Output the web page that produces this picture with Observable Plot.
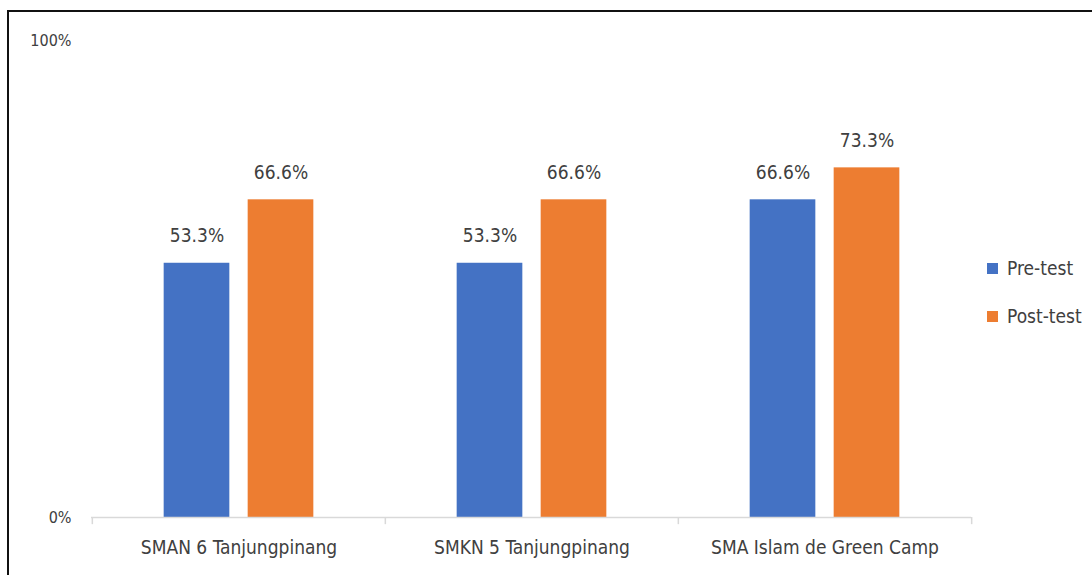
<!DOCTYPE html>
<html>
<head>
<meta charset="utf-8">
<script src="https://cdn.jsdelivr.net/npm/d3@7"></script>
<script src="https://cdn.jsdelivr.net/npm/@observablehq/plot@0.6"></script>
<style>
  html, body { margin: 0; padding: 0; background: #fff; }
  #wrap { position: relative; width: 1092px; height: 575px; overflow: hidden; font-family: "Liberation Sans Narrow", "DejaVu Sans Condensed", sans-serif; }
  #frame { position: absolute; left: 7px; top: 10px; width: 1200px; height: 700px; border-top: 2px solid #111; border-left: 2px solid #111; pointer-events: none; }
  #chart { position: absolute; left: 0; top: 0; }
  #legend { position: absolute; left: 987px; top: 256px; font-size: 19px; color: #404040; }
  .item { display: flex; align-items: center; height: 24px; margin-bottom: 24px; }
  .sw { width: 11px; height: 11px; margin-right: 9px; }
</style>
</head>
<body>
<div id="wrap">
  <div id="chart"></div>
  <div id="legend"></div>
  <div id="frame"></div>
</div>
<script>
const categories = ["SMAN 6 Tanjungpinang", "SMKN 5 Tanjungpinang", "SMA Islam de Green Camp"];
const series = ["Pre-test", "Post-test"];
const preTest = [53.3, 53.3, 66.6];
const postTest = [66.6, 66.6, 73.3];
const yTicks = [0, 100];
const colors = ["#4472C4", "#ED7D31"];

const data = [];
categories.forEach((c, i) => {
  data.push({category: c, series: series[0], value: preTest[i]});
  data.push({category: c, series: series[1], value: postTest[i]});
});
const pre = data.filter(d => d.series === series[0]);
const post = data.filter(d => d.series === series[1]);

const W = 1092, H = 575;
const mL = 91, mR = 121, mT = 40, mB = 58;
const band = (W - mL - mR) / categories.length;
const barW = 66, gap = 18;
const preL = band / 2 - gap / 2 - barW;           // inset from band left
const postL = band / 2 + gap / 2;
const font = '"Liberation Sans Narrow", "DejaVu Sans Condensed", sans-serif';

const chart = Plot.plot({
  width: W, height: H,
  marginLeft: mL, marginRight: mR, marginTop: mT, marginBottom: mB,
  style: {fontFamily: font, fontSize: "19px", color: "#404040", background: "transparent"},
  x: {domain: categories, padding: 0, label: null},
  y: {domain: [0, 100], label: null},
  marks: [
    Plot.axisY({ticks: yTicks, tickFormat: d => d + "%", tickSize: 0, tickPadding: 20, fontSize: 16}),
    Plot.axisX({tickSize: 0, tickPadding: 23, fontSize: 19}),
    Plot.barY(pre, {x: "category", y: "value", fill: colors[0], insetLeft: preL, insetRight: band - preL - barW}),
    Plot.barY(post, {x: "category", y: "value", fill: colors[1], insetLeft: postL, insetRight: band - postL - barW}),
    Plot.ruleY([0], {stroke: "#d9d9d9", strokeWidth: 1.5}),
    Plot.ruleX(categories, {x: d => d, y1: 0, y2: -1.5, dx: -band / 2, stroke: "#d9d9d9", strokeWidth: 1.5}),
    Plot.ruleX([categories[categories.length - 1]], {x: d => d, y1: 0, y2: -1.5, dx: band / 2, stroke: "#d9d9d9", strokeWidth: 1.5}),
    Plot.text(pre, {x: "category", y: "value", text: d => d.value.toFixed(1) + "%", dx: preL + barW / 2 - band / 2, dy: -27, fill: "#404040", fontSize: 19}),
    Plot.text(post, {x: "category", y: "value", text: d => d.value.toFixed(1) + "%", dx: postL + barW / 2 - band / 2, dy: -27, fill: "#404040", fontSize: 19})
  ]
});
document.getElementById("chart").appendChild(chart);

const legend = document.getElementById("legend");
series.forEach((s, i) => {
  const it = document.createElement("div");
  it.className = "item";
  it.innerHTML = `<div class="sw" style="background:${colors[i]}"></div><span>${s}</span>`;
  legend.appendChild(it);
});
</script>
</body>
</html>
